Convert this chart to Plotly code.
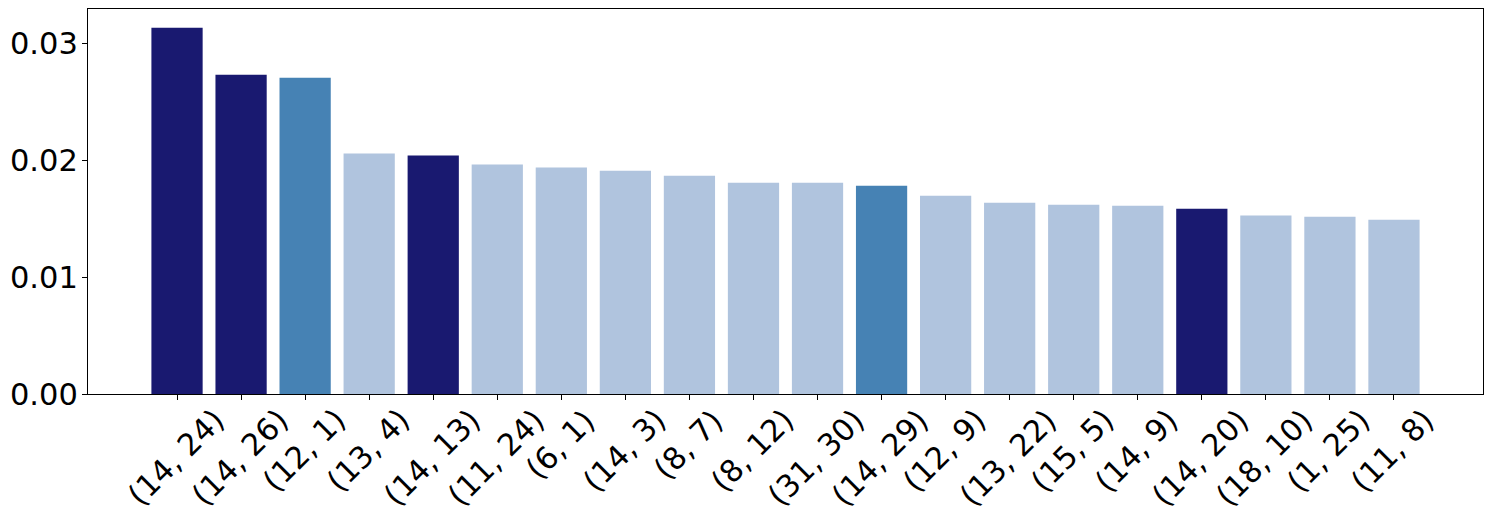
import plotly.graph_objects as go

labels = ["(14, 24)", "(14, 26)", "(12, 1)", "(13, 4)", "(14, 13)", "(11, 24)", "(6, 1)",
          "(14, 3)", "(8, 7)", "(8, 12)", "(31, 30)", "(14, 29)", "(12, 9)", "(13, 22)",
          "(15, 5)", "(14, 9)", "(14, 20)", "(18, 10)", "(1, 25)", "(11, 8)"]
values = [0.03133, 0.02731, 0.02706, 0.02057, 0.02040, 0.01963, 0.01937,
          0.01910, 0.01868, 0.01808, 0.01808, 0.01782, 0.01697, 0.01637,
          0.01620, 0.01611, 0.01585, 0.01528, 0.01517, 0.01491]
groups = ["dark", "dark", "mid", "light", "dark", "light", "light",
          "light", "light", "light", "light", "mid", "light", "light",
          "light", "light", "dark", "light", "light", "light"]
y_ticks = [0.0, 0.01, 0.02, 0.03]

palette = {"dark": "#191970", "mid": "#4682B4", "light": "#B0C4DE"}
xs = list(range(len(labels)))

fig = go.Figure(go.Bar(
    x=xs, y=values, width=0.8,
    marker=dict(color=[palette[g] for g in groups], line=dict(width=0)),
    hoverinfo="skip",
))

font = dict(family="DejaVu Sans", size=30.5, color="black")

for x, lab in zip(xs, labels):
    fig.add_annotation(x=x, y=0, xref="x", yref="paper", text=lab, showarrow=False,
                       textangle=-45, xanchor="center", yanchor="top", yshift=-6,
                       xshift=-1, font=font)

fig.update_layout(
    width=1492, height=520,
    margin=dict(l=88, r=9, t=9, b=126),
    plot_bgcolor="white", paper_bgcolor="white",
    showlegend=False,
    font=font,
)
fig.update_xaxes(range=[-1.39, 20.39], tickvals=xs, showticklabels=False,
                 ticks="outside", ticklen=5, tickwidth=1, tickcolor="black",
                 showline=True, linecolor="black", linewidth=1, mirror=True,
                 showgrid=False, zeroline=False)
fig.update_yaxes(range=[0, 0.03294], tickvals=y_ticks, tickformat=".2f",
                 ticks="outside", ticklen=5, tickwidth=1, tickcolor="black",
                 showline=True, linecolor="black", linewidth=1, mirror=True,
                 showgrid=False, zeroline=False, ticklabelstandoff=-2,
                 tickfont=font, automargin=False)

fig.write_html("out.html", config={"displayModeBar": False},
               post_script="document.body.style.margin='0';")
